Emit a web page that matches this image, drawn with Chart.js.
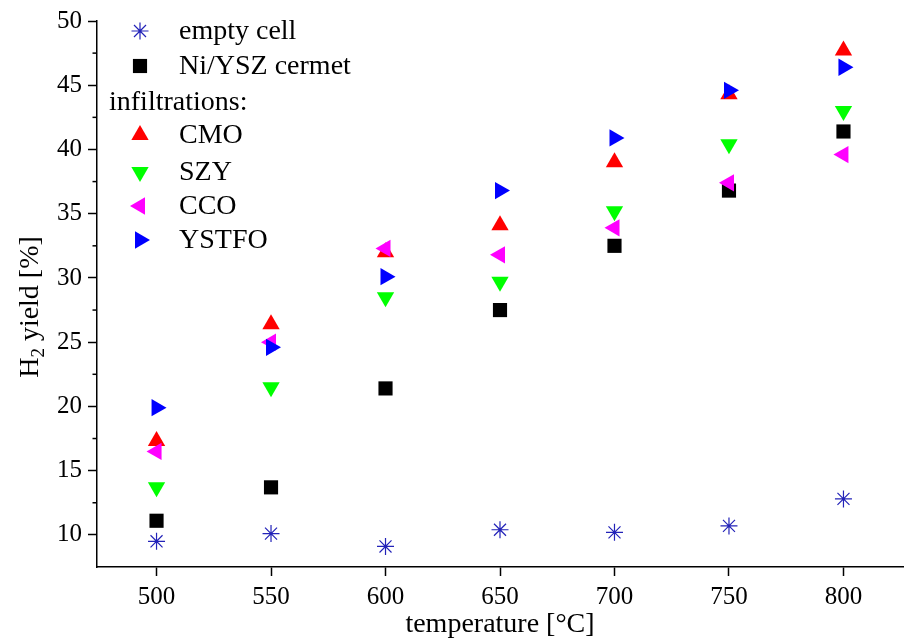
<!DOCTYPE html>
<html><head><meta charset="utf-8">
<script src="https://cdn.jsdelivr.net/npm/chart.js@4.4.0/dist/chart.umd.min.js"></script>
<style>html,body{margin:0;padding:0;background:#fff}#wrap{width:913px;height:641px;position:relative}</style>
</head><body><div id="wrap"><canvas id="c"></canvas></div>
<script>
const temperatures=[500,550,600,650,700,750,800];
const emptyCell=[9.5,10.1,9.1,10.4,10.2,10.7,12.8];
const niYsz=[11.1,13.7,21.4,27.5,32.5,36.8,41.4];
const cmo=[17.3,26.4,32.0,34.1,39.0,44.3,47.7];
const szy=[13.7,21.5,28.5,29.7,35.2,40.4,43.0];
const cco=[16.5,25.0,32.3,31.8,33.9,37.4,39.6];
const ystfo=[19.9,24.6,30.1,36.8,40.9,44.6,46.4];
const xTicks=[500,550,600,650,700,750,800];
const yTicks=[10,15,20,25,30,35,40,45,50];
const yMinor=[12.5,17.5,22.5,27.5,32.5,37.5,42.5,47.5];

const FONT='"Liberation Serif","Times New Roman",serif';
const pts=v=>temperatures.map((t,i)=>({x:t,y:v[i]}));
const series=[
 {label:'empty cell',data:emptyCell,color:'#2222b8',style:'star',rot:0,r:8.5,bw:1.2},
 {label:'Ni/YSZ cermet',data:niYsz,color:'#000000',style:'rect',rot:0,r:10,bw:0},
 {label:'CMO',data:cmo,color:'#ff0000',style:'triangle',rot:0,r:10,bw:0},
 {label:'SZY',data:szy,color:'#00ff00',style:'triangle',rot:180,r:10,bw:0},
 {label:'CCO',data:cco,color:'#ff00ff',style:'triangle',rot:-90,r:10,bw:0},
 {label:'YSTFO',data:ystfo,color:'#0000ff',style:'triangle',rot:90,r:10,bw:0}
];
const datasets=series.map((s,i)=>({
 label:s.label,data:pts(s.data),showLine:false,
 pointStyle:s.style,rotation:s.rot,pointRadius:s.r,pointHoverRadius:s.r,
 backgroundColor:s.color,borderColor:s.color,borderWidth:s.bw,pointBorderWidth:s.bw,
 order:series.length-i
}));

function drawMarker(ctx,s,x,y){
 ctx.save();
 ctx.fillStyle=s.color;ctx.strokeStyle=s.color;ctx.lineWidth=s.bw||1;
 if(Chart.helpers&&Chart.helpers.drawPoint){
  Chart.helpers.drawPoint(ctx,{pointStyle:s.style,rotation:s.rot,radius:s.r,borderWidth:s.bw},x,y);
 }
 ctx.restore();
}

const extras={
 id:'extras',
 afterDraw(chart){
  const ctx=chart.ctx, a=chart.chartArea, ys=chart.scales.y;
  ctx.save();
  ctx.strokeStyle='#000';ctx.lineWidth=1.5;
  yMinor.forEach(v=>{const p=ys.getPixelForValue(v);ctx.beginPath();ctx.moveTo(a.left-4.5,p);ctx.lineTo(a.left,p);ctx.stroke();});
  ctx.font='28px '+FONT;ctx.textBaseline='middle';ctx.fillStyle='#000';
  const rows=[31,66,102,135,172,206,240];
  const mx=140, tx=179;
  drawMarker(ctx,series[0],mx,rows[0]);ctx.fillStyle='#000';ctx.fillText(series[0].label,tx,rows[0]+1);
  drawMarker(ctx,series[1],mx,rows[1]);ctx.fillStyle='#000';ctx.fillText(series[1].label,tx,rows[1]+1);
  ctx.fillText('infiltrations:',109,rows[2]+1);
  for(let i=2;i<6;i++){drawMarker(ctx,series[i],mx,rows[i+1]);ctx.fillStyle='#000';ctx.fillText(series[i].label,tx,rows[i+1]+1);}
  ctx.save();
  ctx.translate(29,307);ctx.rotate(-Math.PI/2);
  const f1='28px '+FONT, f2='19px '+FONT;
  const p1='H', p2='2', p3=' yield [%]';
  ctx.font=f1;const w1=ctx.measureText(p1).width, w3=ctx.measureText(p3).width;
  ctx.font=f2;const w2=ctx.measureText(p2).width;
  let x0=-(w1+w2+w3)/2;
  ctx.textBaseline='alphabetic';ctx.fillStyle='#000';
  ctx.font=f1;ctx.fillText(p1,x0,9);
  ctx.font=f2;ctx.fillText(p2,x0+w1,15);
  ctx.font=f1;ctx.fillText(p3,x0+w1+w2,9);
  ctx.restore();
  ctx.restore();
 }
};

new Chart(document.getElementById('c'),{
 type:'scatter',
 data:{datasets},
 plugins:[extras],
 options:{
  responsive:true,maintainAspectRatio:false,animation:false,
  layout:{padding:{top:16,right:6,left:0,bottom:0}},
  plugins:{legend:{display:false},tooltip:{enabled:false}},
  scales:{
   x:{type:'linear',min:474,max:826,
    afterBuildTicks:s=>{s.ticks=xTicks.map(v=>({value:v}));},
    afterFit:s=>{s.height=74;},
    grid:{drawOnChartArea:false,drawTicks:true,tickLength:9,tickColor:'#000',tickWidth:1.5},
    border:{display:true,color:'#000',width:1.5},
    ticks:{color:'#000',font:{family:FONT,size:25},padding:6,maxRotation:0},
    title:{display:true,text:'temperature [°C]',color:'#000',font:{family:FONT,size:28},padding:{top:0,bottom:0}}
   },
   y:{type:'linear',min:7.5,max:50,
    afterBuildTicks:s=>{s.ticks=yTicks.map(v=>({value:v}));},
    afterFit:s=>{s.width=97;},
    grid:{drawOnChartArea:false,drawTicks:true,tickLength:9,tickColor:'#000',tickWidth:1.5},
    border:{display:true,color:'#000',width:1.5},
    ticks:{color:'#000',font:{family:FONT,size:25},padding:6}
   }
  }
 }
});
</script></body></html>
